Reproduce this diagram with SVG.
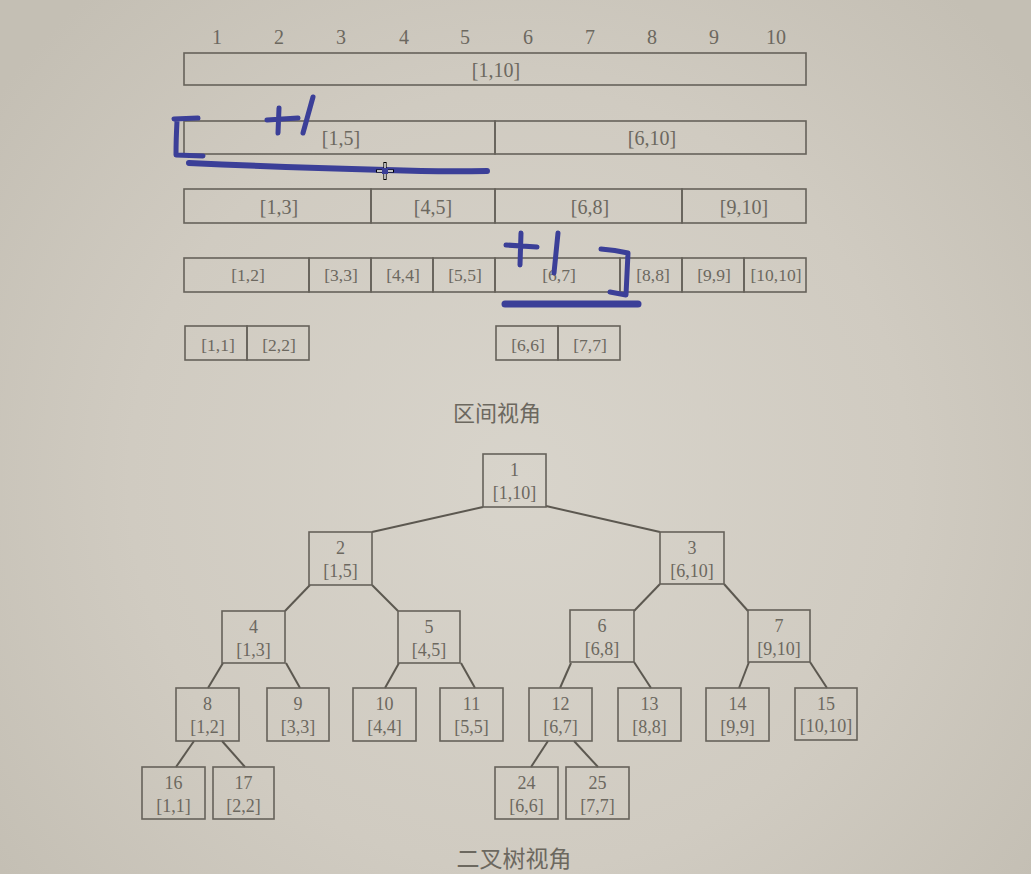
<svg xmlns="http://www.w3.org/2000/svg" width="1031" height="874" viewBox="0 0 1031 874">
<defs>
<radialGradient id="bg" cx="520" cy="480" r="650" gradientUnits="userSpaceOnUse">
<stop offset="0" stop-color="#d8d4cb"/>
<stop offset="0.6" stop-color="#d0cbc1"/>
<stop offset="1" stop-color="#c4bfb4"/>
</radialGradient>
<style>
.box{fill:none;stroke:#66625a;stroke-width:1.6}
.t{font-family:"Liberation Serif","DejaVu Serif",serif;fill:#6c685f;text-anchor:middle;dominant-baseline:central}
.s20{font-size:20px}
.s18{font-size:18px}
.s17{font-size:17.5px}
.cap{font-family:"Noto Sans CJK SC","Noto Sans",sans-serif;font-size:22px;fill:#6c685f;text-anchor:middle;dominant-baseline:central}
.edge{stroke:#5c5850;stroke-width:2;fill:none}
.ink{fill:none;stroke:#3b3f98;stroke-linecap:round;stroke-linejoin:round}
</style>
</defs>
<rect x="0" y="0" width="1031" height="874" fill="url(#bg)"/>

<g id="ruler">
<text class="t s20" x="217" y="37">1</text>
<text class="t s20" x="279" y="37">2</text>
<text class="t s20" x="341" y="37">3</text>
<text class="t s20" x="404" y="37">4</text>
<text class="t s20" x="465" y="37">5</text>
<text class="t s20" x="528" y="37">6</text>
<text class="t s20" x="590" y="37">7</text>
<text class="t s20" x="652" y="37">8</text>
<text class="t s20" x="714" y="37">9</text>
<text class="t s20" x="776" y="37">10</text>
</g>

<g id="interval-row1">
<rect class="box" x="184" y="53" width="622" height="32"/>
<text class="t s20" x="496" y="70">[1,10]</text>
</g>
<g id="interval-row2">
<rect class="box" x="184" y="121" width="311" height="33"/>
<rect class="box" x="495" y="121" width="311" height="33"/>
<text class="t s20" x="341" y="138">[1,5]</text>
<text class="t s20" x="652" y="138">[6,10]</text>
</g>
<g id="interval-row3">
<rect class="box" x="184" y="189" width="187" height="34"/>
<rect class="box" x="371" y="189" width="124" height="34"/>
<rect class="box" x="495" y="189" width="187" height="34"/>
<rect class="box" x="682" y="189" width="124" height="34"/>
<text class="t s20" x="279" y="207">[1,3]</text>
<text class="t s20" x="433" y="207">[4,5]</text>
<text class="t s20" x="590" y="207">[6,8]</text>
<text class="t s20" x="744" y="207">[9,10]</text>
</g>
<g id="interval-row4">
<rect class="box" x="184" y="258" width="125" height="34"/>
<rect class="box" x="309" y="258" width="62" height="34"/>
<rect class="box" x="371" y="258" width="62" height="34"/>
<rect class="box" x="433" y="258" width="62" height="34"/>
<rect class="box" x="495" y="258" width="125" height="34"/>
<rect class="box" x="620" y="258" width="62" height="34"/>
<rect class="box" x="682" y="258" width="62" height="34"/>
<rect class="box" x="744" y="258" width="62" height="34"/>
<text class="t s17" x="248" y="275">[1,2]</text>
<text class="t s17" x="341" y="275">[3,3]</text>
<text class="t s17" x="403" y="275">[4,4]</text>
<text class="t s17" x="465" y="275">[5,5]</text>
<text class="t s17" x="559" y="275">[6,7]</text>
<text class="t s17" x="653" y="275">[8,8]</text>
<text class="t s17" x="714" y="275">[9,9]</text>
<text class="t s17" x="776" y="275">[10,10]</text>
</g>
<g id="interval-row5">
<rect class="box" x="185" y="326" width="62" height="34"/>
<rect class="box" x="247" y="326" width="62" height="34"/>
<rect class="box" x="496" y="326" width="62" height="34"/>
<rect class="box" x="558" y="326" width="62" height="34"/>
<text class="t s17" x="218" y="345">[1,1]</text>
<text class="t s17" x="279" y="345">[2,2]</text>
<text class="t s17" x="528" y="345">[6,6]</text>
<text class="t s17" x="590" y="345">[7,7]</text>
</g>
<text class="cap" x="497" y="411">区间视角</text>

<g id="connectors">
<line class="edge" x1="483" y1="507" x2="372" y2="532"/>
<line class="edge" x1="546" y1="506" x2="660" y2="532"/>
<line class="edge" x1="310" y1="585" x2="285" y2="611"/>
<line class="edge" x1="372" y1="585" x2="398" y2="611"/>
<line class="edge" x1="660" y1="584" x2="634" y2="611"/>
<line class="edge" x1="724" y1="584" x2="748" y2="611"/>
<line class="edge" x1="223" y1="663" x2="208" y2="688"/>
<line class="edge" x1="286" y1="663" x2="300" y2="688"/>
<line class="edge" x1="399" y1="663" x2="385" y2="688"/>
<line class="edge" x1="461" y1="663" x2="475" y2="688"/>
<line class="edge" x1="571" y1="663" x2="560" y2="688"/>
<line class="edge" x1="634" y1="662" x2="651" y2="688"/>
<line class="edge" x1="749" y1="662" x2="739" y2="688"/>
<line class="edge" x1="810" y1="662" x2="827" y2="688"/>
<line class="edge" x1="194" y1="741" x2="176" y2="767"/>
<line class="edge" x1="222" y1="741" x2="245" y2="767"/>
<line class="edge" x1="548" y1="741" x2="531" y2="767"/>
<line class="edge" x1="574" y1="741" x2="598" y2="767"/>
</g>

<g id="n1"><rect class="box" x="483" y="454" width="63" height="53"/><text class="t s18" x="514.5" y="470">1</text><text class="t s18" x="514.5" y="493">[1,10]</text></g>
<g id="n2"><rect class="box" x="309" y="532" width="63" height="53"/><text class="t s18" x="340.5" y="548">2</text><text class="t s18" x="340.5" y="571">[1,5]</text></g>
<g id="n3"><rect class="box" x="660" y="532" width="64" height="52"/><text class="t s18" x="692" y="548">3</text><text class="t s18" x="692" y="571">[6,10]</text></g>
<g id="n4"><rect class="box" x="222" y="611" width="63" height="52"/><text class="t s18" x="253.5" y="627">4</text><text class="t s18" x="253.5" y="650">[1,3]</text></g>
<g id="n5"><rect class="box" x="398" y="611" width="62" height="52"/><text class="t s18" x="429" y="627">5</text><text class="t s18" x="429" y="650">[4,5]</text></g>
<g id="n6"><rect class="box" x="570" y="610" width="64" height="52"/><text class="t s18" x="602" y="626">6</text><text class="t s18" x="602" y="649">[6,8]</text></g>
<g id="n7"><rect class="box" x="748" y="610" width="62" height="52"/><text class="t s18" x="779" y="626">7</text><text class="t s18" x="779" y="649">[9,10]</text></g>
<g id="n8"><rect class="box" x="176" y="688" width="63" height="53"/><text class="t s18" x="207.5" y="704">8</text><text class="t s18" x="207.5" y="727">[1,2]</text></g>
<g id="n9"><rect class="box" x="267" y="688" width="62" height="53"/><text class="t s18" x="298" y="704">9</text><text class="t s18" x="298" y="727">[3,3]</text></g>
<g id="n10"><rect class="box" x="353" y="688" width="63" height="53"/><text class="t s18" x="384.5" y="704">10</text><text class="t s18" x="384.5" y="727">[4,4]</text></g>
<g id="n11"><rect class="box" x="440" y="688" width="63" height="53"/><text class="t s18" x="471.5" y="704">11</text><text class="t s18" x="471.5" y="727">[5,5]</text></g>
<g id="n12"><rect class="box" x="529" y="688" width="63" height="53"/><text class="t s18" x="560.5" y="704">12</text><text class="t s18" x="560.5" y="727">[6,7]</text></g>
<g id="n13"><rect class="box" x="618" y="688" width="63" height="53"/><text class="t s18" x="649.5" y="704">13</text><text class="t s18" x="649.5" y="727">[8,8]</text></g>
<g id="n14"><rect class="box" x="706" y="688" width="63" height="53"/><text class="t s18" x="737.5" y="704">14</text><text class="t s18" x="737.5" y="727">[9,9]</text></g>
<g id="n15"><rect class="box" x="795" y="688" width="62" height="52"/><text class="t s18" x="826" y="704">15</text><text class="t s18" x="826" y="726">[10,10]</text></g>
<g id="n16"><rect class="box" x="142" y="767" width="63" height="52"/><text class="t s18" x="173.5" y="783">16</text><text class="t s18" x="173.5" y="806">[1,1]</text></g>
<g id="n17"><rect class="box" x="213" y="767" width="61" height="52"/><text class="t s18" x="243.5" y="783">17</text><text class="t s18" x="243.5" y="806">[2,2]</text></g>
<g id="n24"><rect class="box" x="495" y="767" width="63" height="52"/><text class="t s18" x="526.5" y="783">24</text><text class="t s18" x="526.5" y="806">[6,6]</text></g>
<g id="n25"><rect class="box" x="566" y="767" width="63" height="52"/><text class="t s18" x="597.5" y="783">25</text><text class="t s18" x="597.5" y="806">[7,7]</text></g>

<text class="cap" x="514" y="857" style="font-size:23px">二叉树视角</text>

<g id="annotations">
<path class="ink" stroke-width="5" d="M174 119 L198 118 M177 121 Q176 140 176 155 L203 156"/>
<path class="ink" stroke-width="5" d="M267 120 L298 118 M279 108 L278 133 M313 97 L303 133"/>
<path class="ink" stroke-width="6" d="M189 163 Q280 167 386 170 Q440 172 487 171"/>
<path class="ink" stroke-width="5" d="M506 245 L537 247 M521 233 L520 265 M558 233 L554 273"/>
<path class="ink" stroke-width="5" d="M601 249 Q615 250 628 253 L626 295 L610 292"/>
<path class="ink" stroke-width="7" d="M505 304 L638 304"/>
</g>
<g id="cursor">
<path d="M385 162 V180 M376 171 H394" stroke="#000" stroke-width="3.2"/>
<path d="M385 163 V179 M377 171 H393" stroke="#fff" stroke-width="1.4"/>
<rect x="382" y="168" width="6" height="6" fill="#3b3f98"/>
</g>
</svg>
